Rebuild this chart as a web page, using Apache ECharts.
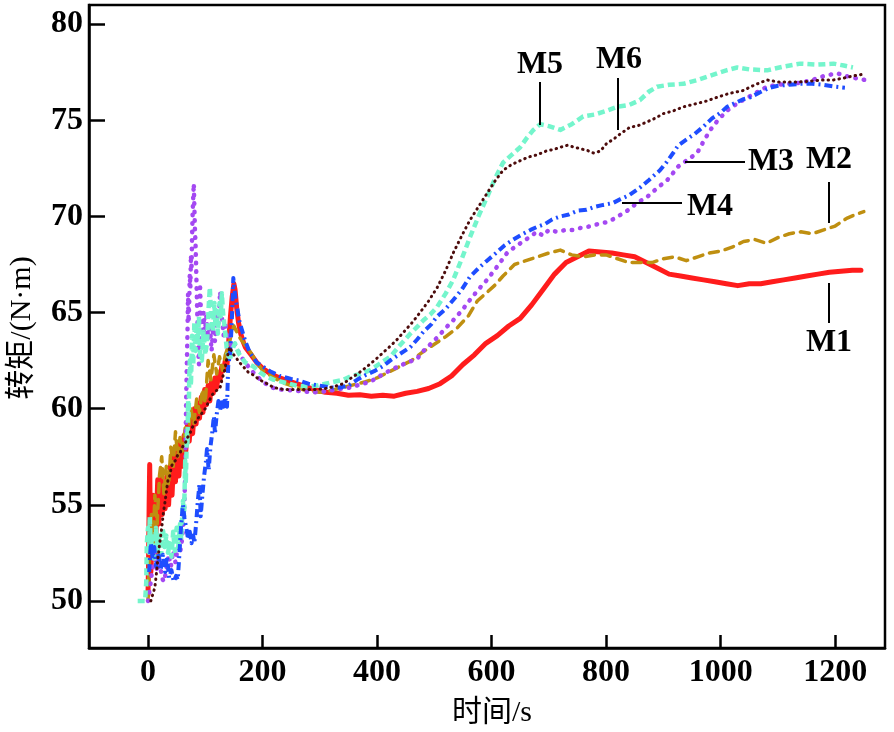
<!DOCTYPE html>
<html>
<head>
<meta charset="utf-8">
<script src="https://cdn.jsdelivr.net/npm/echarts@6/dist/echarts.min.js"></script>
<style>html,body{margin:0;padding:0;background:#fff}#c{width:894px;height:732px}</style>
</head>
<body>
<div id="c"></div>
<script>
var xTicks = [0, 200, 400, 600, 800, 1000, 1200];
var yTicks = [50, 55, 60, 65, 70, 75, 80];
var seriesNames = ['M1', 'M2', 'M3', 'M4', 'M5', 'M6'];

var m1 = [[0,50.3],[1,52],[2,55],[3,57.1],[4,54],[5,51.5],[7,53],[9,55.5],[11,53.5],[13,52.5],[15,54.5],[17,56.3],[19,54],[21,55.5],[23,56.6],[25,54.5],[27,55.8],[30,54.8],[33,56.5],[36,55],[39,57],[42,55.5],[45,57.5],[48,56.2],[51,57.8],[54,56.5],[57,58.3],[60,57],[63,58.6],[66,57.8],[69,59.2],[72,58.3],[75,59.5],[78,58.7],[81,60],[84,59.2],[87,60.3],[90,59.5],[93,60.6],[96,59.8],[99,61],[102,60.2],[105,61.2],[108,60.4],[111,61.4],[114,60.8],[117,61.6],[120,61.1],[123,61.8],[126,61.5],[129,62.2],[132,62],[135,62.5],[138,62.3],[141,63.5],[144,64.8],[147,65.8],[150,66.5],[152,66.2],[155,65.2],[158,64.5],[162,63.9],[166,63.5],[170,63.2],[180,62.8],[190,62.4],[200,62.1],[215,61.8],[230,61.6],[250,61.4],[270,61.2],[290,61.0],[310,60.85],[330,60.8],[350,60.7],[370,60.72],[390,60.65],[410,60.7],[430,60.65],[450,60.8],[470,60.9],[490,61.05],[510,61.3],[530,61.7],[550,62.3],[570,62.8],[590,63.4],[610,63.8],[630,64.3],[650,64.7],[670,65.4],[690,66.2],[710,67.0],[730,67.6],[750,67.9],[770,68.2],[790,68.15],[810,68.1],[830,68.0],[850,67.9],[870,67.6],[890,67.3],[910,67.0],[930,66.9],[950,66.8],[970,66.7],[990,66.6],[1010,66.5],[1030,66.4],[1050,66.5],[1070,66.5],[1090,66.6],[1110,66.7],[1130,66.8],[1150,66.9],[1170,67.0],[1190,67.1],[1210,67.15],[1230,67.2],[1245,67.2]];

var m2 = [[0,50],[3,52.5],[6,54.5],[9,53],[12,55.5],[16,54],[20,56.5],[24,57.5],[28,55.5],[32,57],[36,56],[40,58],[44,57],[48,58.8],[52,57.5],[56,58.5],[60,57.8],[65,59],[70,58.5],[75,60],[80,59.2],[85,60.5],[90,59.8],[95,61],[100,60.3],[105,62.5],[110,61.5],[115,62.8],[120,61.8],[125,62.7],[130,62],[135,62.8],[140,63.2],[145,63.8],[150,64.3],[155,64],[160,63.7],[170,63.3],[180,62.9],[190,62.4],[200,62.0],[220,61.6],[240,61.3],[260,61.1],[280,60.9],[300,60.85],[320,60.95],[340,61.1],[360,61.25],[380,61.4],[400,61.6],[420,61.9],[440,62.2],[460,62.5],[480,62.95],[500,63.35],[520,63.75],[540,64.2],[560,64.85],[575,65.6],[590,66.0],[605,66.4],[620,66.9],[640,67.5],[660,67.7],[680,67.9],[700,68.1],[720,68.25],[740,68.0],[760,67.9],[780,68.0],[800,68.0],[820,67.8],[840,67.6],[860,67.6],[880,67.6],[900,67.8],[920,67.9],[940,67.7],[960,67.9],[980,68.1],[1000,68.2],[1020,68.4],[1040,68.7],[1060,68.8],[1080,68.6],[1100,68.9],[1120,69.1],[1140,69.2],[1160,69.1],[1180,69.3],[1200,69.5],[1220,69.9],[1235,70.1],[1250,70.25]];

var m3 = [[0,50],[4,50.8],[8,51.8],[12,52.6],[16,51.5],[20,52.3],[24,51.2],[28,51],[32,51.6],[36,52.4],[40,51.8],[44,52.6],[48,52],[52,52.8],[56,52.5],[60,53.3],[63,54.5],[65,56.5],[66,59],[67,61],[68,62.5],[69,64],[70,66],[71,64.5],[72,65.5],[73,67],[74,66.3],[75,68],[76,67.2],[77,69],[78,70.2],[79,71],[80,71.7],[81,70.5],[82,69.3],[83,68.6],[84,67.5],[85,66.2],[86,65],[87,64],[88,63],[89,62.3],[90,63.5],[91,66.3],[93,64.5],[95,63.2],[97,65],[99,63.8],[102,64.8],[105,63.6],[108,64.4],[111,63],[114,64.2],[117,63.5],[120,65],[123,64.4],[126,66.1],[129,64.8],[132,63.8],[135,64.5],[138,63.6],[141,64],[144,63.4],[147,63.2],[150,63.4],[155,63.2],[160,62.8],[170,62.4],[180,62],[190,61.7],[200,61.4],[217,61.1],[230,61.0],[250,60.95],[270,60.9],[290,60.85],[310,60.9],[330,61.0],[353,61.1],[370,61.25],[388,61.4],[405,61.7],[423,62.0],[445,62.3],[470,62.6],[481,63.0],[495,63.4],[505,63.7],[520,64.2],[533,64.6],[548,65.1],[562,65.65],[577,66.2],[592,66.7],[610,67.4],[627,68.1],[640,68.4],[650,68.6],[665,68.9],[679,69.2],[690,69.0],[700,69.3],[714,69.2],[730,69.3],[742,69.3],[755,69.4],[766,69.45],[780,69.55],[790,69.65],[802,69.7],[815,69.9],[826,70.1],[837,70.3],[854,70.7],[871,71.0],[890,71.5],[907,71.9],[918,72.3],[926,72.6],[940,72.9],[959,73.3],[970,73.9],[982,74.5],[995,75.0],[1011,75.5],[1025,75.8],[1039,76.05],[1060,76.4],[1081,76.75],[1100,76.85],[1120,76.9],[1139,76.95],[1160,77.1],[1180,77.3],[1203,77.45],[1220,77.3],[1235,77.2],[1252,77.1]];

var m4 = [[2,51.5],[5,53],[8,52.2],[11,52.8],[14,51.8],[18,52.5],[22,51.6],[26,52.4],[30,51.5],[33,52.3],[37,51.2],[41,51.6],[45,51],[49,51.3],[52,51.1],[55,52.5],[58,54],[61,55],[64,54.2],[67,53.8],[70,53.2],[73,53.6],[76,53],[79,53.4],[81,53],[84,54],[87,55.2],[90,56.1],[92,54.4],[95,55.5],[98,56.5],[101,57.2],[103,57.9],[106,56.8],[109,58],[112,58.7],[115,59.6],[117,58.7],[120,59.7],[123,60.4],[126,59.9],[129,60.5],[132,60.1],[135,60.6],[138,60.1],[140,62.2],[143,62.8],[145,63.7],[147,65],[149,66.8],[151,66.2],[153,65.7],[156,65.2],[160,64.5],[164,64.1],[170,63.5],[178,62.9],[190,62.4],[200,62.2],[213,61.95],[230,61.7],[250,61.55],[265,61.45],[280,61.3],[300,61.2],[320,61.1],[335,61.1],[350,61.2],[365,61.5],[380,61.75],[395,61.95],[410,62.2],[425,62.55],[440,62.85],[458,63.2],[470,63.6],[481,64.0],[495,64.4],[505,64.8],[520,65.2],[533,65.65],[548,66.2],[562,66.85],[577,67.3],[592,67.7],[608,68.1],[623,68.5],[638,68.8],[655,69.1],[668,69.3],[679,69.45],[693,69.6],[706,69.85],[720,70.0],[735,70.1],[750,70.3],[766,70.35],[780,70.5],[795,70.6],[812,70.7],[825,70.9],[840,71.1],[859,71.5],[875,71.9],[894,72.4],[905,72.8],[917,73.3],[926,73.7],[940,74.0],[955,74.3],[969,74.65],[985,75.1],[1000,75.4],[1011,75.7],[1025,75.9],[1040,76.1],[1052,76.2],[1068,76.45],[1086,76.7],[1100,76.8],[1120,76.85],[1139,76.9],[1160,76.9],[1179,76.85],[1200,76.75],[1217,76.7]];

var m5 = [[-18,50],[-5,50],[-3,51],[-2,53],[0,53.8],[2,52.5],[3,54.4],[5,52.8],[8,53.5],[11,52.2],[14,53.8],[17,52.6],[20,53.4],[23,52.4],[26,53.8],[29,52.8],[32,53.4],[35,52.5],[38,53],[41,52.3],[44,53.6],[47,52.6],[50,53.8],[53,52.8],[56,54],[58,53.2],[61,55.2],[63,54.4],[65,57.3],[66,56.1],[68,58.7],[69,58.2],[70,60.4],[71,59.6],[72,61.5],[73,62.5],[75,61.2],[77,63.8],[79,62.3],[81,64.5],[83,63],[85,64.2],[87,63.5],[89,64.8],[91,62.8],[94,62.5],[97,64],[100,62.8],[103,63.4],[106,65.3],[108,66.3],[110,65],[113,64],[116,65.5],[118,64.2],[120,65.1],[122,63.9],[125,65.5],[127,64.8],[129,66],[131,65],[134,64.2],[136,63.6],[138,63],[141,62.7],[143,62.5],[146,63],[149,63.2],[152,63.4],[155,63.1],[160,62.8],[170,62.4],[184,62.2],[195,61.9],[208,61.65],[220,61.5],[240,61.35],[260,61.2],[280,61.15],[295,61.2],[310,61.3],[325,61.4],[341,61.5],[355,61.7],[370,61.8],[388,62.0],[405,62.35],[423,62.7],[440,63.3],[458,63.9],[470,64.25],[481,64.6],[493,64.9],[505,65.3],[520,66.0],[533,66.7],[548,67.8],[562,68.9],[577,70.0],[592,71.0],[605,71.9],[620,72.8],[635,73.2],[650,73.6],[662,74.1],[673,74.5],[685,74.8],[700,74.7],[720,74.5],[740,74.8],[760,75.2],[780,75.3],[801,75.5],[819,75.7],[840,75.8],[859,76.05],[875,76.5],[889,76.75],[910,76.85],[935,76.9],[960,77.1],[980,77.3],[994,77.45],[1010,77.6],[1029,77.75],[1050,77.65],[1081,77.6],[1110,77.8],[1139,77.95],[1170,77.9],[1197,77.95],[1215,77.85],[1231,77.75]];

var m6 = [[5,50],[8,50],[12,50.7],[15,51.5],[17,52.1],[20,52.9],[24,53.8],[27,54.6],[30,55.2],[33,55.9],[35,56.3],[38,56.5],[41,57],[44,57.2],[48,57.3],[52,57.6],[56,57.7],[60,58],[65,58.2],[69,58.5],[73,58.7],[77,59],[81,59.2],[85,59.4],[90,59.6],[95,59.8],[100,60],[105,60.3],[110,60.6],[114,60.8],[118,60.9],[122,61],[126,61.1],[130,61.6],[134,62],[137,62.5],[140,62.9],[143,63.2],[146,63],[150,62.8],[155,62.6],[160,62.4],[166,62.2],[175,61.9],[184,61.75],[195,61.5],[208,61.3],[220,61.1],[236,61.0],[250,61.0],[265,61.0],[280,61.0],[295,61.0],[310,61.05],[325,61.15],[341,61.3],[355,61.6],[370,61.9],[383,62.2],[397,62.55],[410,62.9],[423,63.25],[435,63.6],[450,64.1],[462,64.5],[475,65.0],[490,65.6],[505,66.3],[520,67.2],[533,68.1],[548,69.0],[562,69.8],[577,70.5],[592,71.2],[605,71.8],[620,72.4],[635,72.7],[650,72.9],[665,73.1],[679,73.2],[695,73.4],[710,73.5],[720,73.6],[732,73.7],[745,73.6],[758,73.5],[766,73.45],[778,73.3],[790,73.4],[801,73.8],[812,74.0],[825,74.3],[842,74.65],[854,74.7],[870,74.9],[885,75.1],[900,75.35],[918,75.5],[935,75.7],[955,75.85],[975,76.0],[994,76.2],[1015,76.4],[1039,76.55],[1060,76.85],[1081,77.1],[1100,77.0],[1120,77.0],[1139,77.0],[1160,77.05],[1180,77.1],[1197,77.1],[1215,77.2],[1238,77.35],[1250,77.4]];

var FONT = '"Liberation Serif", "Times New Roman", "Noto Sans CJK SC", serif';
var chart = echarts.init(document.getElementById('c'), null, {renderer: 'canvas'});

function mk(name, data, color, width, dash, cap, z) {
  return {
    name: name, type: 'line', data: data, showSymbol: false, symbol: 'none',
    z: z, animation: false,
    lineStyle: {color: color, width: width, type: dash, cap: cap, join: 'round'}
  };
}

function label(text, x, y) {
  return {type: 'text', x: x, y: y, style: {text: text, font: 'bold 32px ' + FONT, fill: '#000', align: 'center', verticalAlign: 'middle'}, z: 100};
}
function seg(x1, y1, x2, y2) {
  return {type: 'line', shape: {x1: x1, y1: y1, x2: x2, y2: y2}, style: {stroke: '#000', lineWidth: 2}, z: 100};
}
function plain(v) { return String(v); }

chart.setOption({
  animation: false,
  backgroundColor: '#fff',
  grid: {left: 89, right: 9, top: 5, bottom: 84, show: true, borderColor: '#000', borderWidth: 2.5, backgroundColor: 'transparent'},
  xAxis: {
    type: 'value', min: -103, max: 1287,
    axisLine: {show: true, onZero: false, lineStyle: {color: '#000', width: 2.5}},
    axisTick: {show: true, inside: true, length: 13, lineStyle: {color: '#000', width: 2.5}, customValues: xTicks},
    axisLabel: {color: '#000', fontFamily: FONT, fontSize: 32, fontWeight: 'bold', margin: 9, customValues: xTicks, formatter: plain},
    splitLine: {show: false}
  },
  yAxis: {
    type: 'value', min: 47.55, max: 81,
    axisLine: {show: true, onZero: false, lineStyle: {color: '#000', width: 2.5}},
    axisTick: {show: true, inside: true, length: 16, lineStyle: {color: '#000', width: 2.5}, customValues: yTicks},
    axisLabel: {color: '#000', fontFamily: FONT, fontSize: 32, fontWeight: 'bold', margin: 6, customValues: yTicks, formatter: plain},
    splitLine: {show: false}
  },
  series: [
    mk(seriesNames[0], m1, '#ff1c1c', 5, 'solid', 'round', 2),
    mk(seriesNames[1], m2, '#bf8f10', 3.5, [9, 7], 'round', 3),
    mk(seriesNames[2], m3, '#a448f2', 4.5, [0.5, 8], 'round', 4),
    mk(seriesNames[4], m5, '#74f5cc', 4.5, [7, 4], 'butt', 5),
    mk(seriesNames[3], m4, '#1e4dff', 4, [8, 4, 2, 4], 'butt', 6),
    mk(seriesNames[5], m6, '#4d0c0c', 3, [0.5, 5], 'round', 7)
  ],
  graphic: [
    {type: 'text', x: 492, y: 713, style: {text: '时间/s', font: '30px ' + FONT, fill: '#000', align: 'center', verticalAlign: 'middle'}},
    {type: 'text', x: 22, y: 328, rotation: Math.PI / 2, style: {text: '转矩/(N·m)', font: '30px ' + FONT, fill: '#000', align: 'center', verticalAlign: 'middle'}},
    label('M5', 540, 65), seg(540, 82, 540, 125),
    label('M6', 619, 60), seg(618, 78, 618, 130),
    label('M3', 771, 162), seg(685, 162, 745, 162),
    label('M2', 829, 160), seg(829, 182, 829, 223),
    label('M4', 710, 207), seg(622, 203, 682, 203),
    label('M1', 829, 343), seg(829, 283, 829, 323)
  ]
});
</script>
</body>
</html>
